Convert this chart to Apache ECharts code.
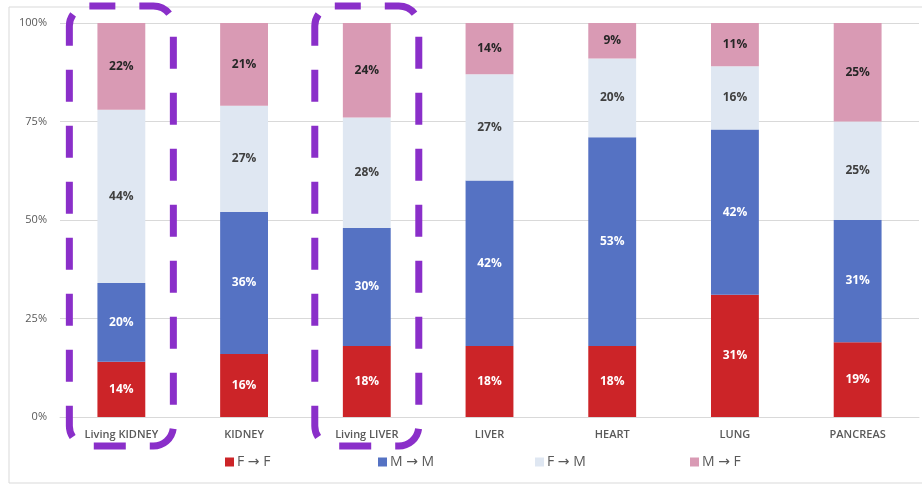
<!DOCTYPE html>
<html>
<head>
<meta charset="utf-8">
<script src="https://cdn.jsdelivr.net/npm/echarts@6/dist/echarts.min.js"></script>
<style>
  html, body { margin: 0; padding: 0; background: #fff; }
  #chart { width: 922px; height: 486px; }
</style>
</head>
<body>
<div id="chart"></div>
<script>
// Organ categories and the donor→recipient sex shares (percent)
const categories = ['Living KIDNEY', 'KIDNEY', 'Living LIVER', 'LIVER', 'HEART', 'LUNG', 'PANCREAS'];
const seriesNames = ['F \u2192 F', 'M \u2192 M', 'F \u2192 M', 'M \u2192 F'];
const fToF = [14, 16, 18, 18, 18, 31, 19];
const mToM = [20, 36, 30, 42, 53, 42, 31];
const fToM = [44, 27, 28, 27, 20, 16, 25];
const mToF = [22, 21, 24, 14, 9, 11, 25];
const yTicks = [0, 25, 50, 75, 100];
// Categories outlined with a dashed box
const highlighted = ['Living KIDNEY', 'Living LIVER'];

const colors = ['#cc2428', '#5572c3', '#dfe7f2', '#d99ab4'];
const labelColors = ['#ffffff', '#ffffff', '#404040', '#262626'];
const values = [fToF, mToM, fToM, mToF];
const legendLeft = [225, 378, 535, 690];
const FONT = '"Open Sans", "DejaVu Sans", sans-serif';

const chart = echarts.init(document.getElementById('chart'), null, { renderer: 'canvas' });

const series = seriesNames.map((name, i) => ({
  name: name,
  type: 'bar',
  stack: 'share',
  barWidth: '39%',
  itemStyle: { color: colors[i] },
  label: {
    show: true,
    position: 'inside',
    formatter: p => p.value + '%',
    color: labelColors[i],
    fontFamily: FONT,
    fontWeight: 'bold',
    fontSize: 12
  },
  emphasis: { disabled: true },
  data: values[i]
}));

// One legend block per series so the entries sit evenly spaced
const legends = seriesNames.map((name, i) => ({
  data: [name],
  left: legendLeft[i],
  top: 455,
  padding: 0,
  icon: 'rect',
  itemWidth: 9,
  itemHeight: 9,
  itemGap: 0,
  textStyle: {
    color: '#595959',
    fontFamily: FONT,
    fontSize: 14,
    padding: [0, 0, 0, -2]
  }
}));

chart.setOption({
  animation: false,
  backgroundColor: '#ffffff',
  grid: { left: 60, right: 3, top: 23, bottom: 69 },
  legend: legends,
  xAxis: {
    type: 'category',
    data: categories,
    axisLine: { show: true, lineStyle: { color: '#d9d9d9' } },
    axisTick: { show: false },
    axisLabel: {
      color: '#595959',
      fontFamily: FONT,
      fontWeight: 600,
      fontSize: 11,
      margin: 12
    }
  },
  yAxis: {
    type: 'value',
    min: yTicks[0],
    max: yTicks[yTicks.length - 1],
    interval: 25,
    axisLine: { show: false },
    axisTick: { show: false },
    splitLine: { lineStyle: { color: '#d9d9d9' } },
    axisLabel: {
      color: '#595959',
      fontFamily: FONT,
      fontSize: 11,
      margin: 13,
      formatter: v => v + '%'
    }
  },
  series: series
});

// Frame around the chart area and dashed outlines around the living-donor bars
function drawOverlays() {
  const yTop = chart.convertToPixel({ yAxisIndex: 0 }, 100);
  const yZero = chart.convertToPixel({ yAxisIndex: 0 }, 0);
  const elements = [{
    type: 'rect',
    silent: true,
    z: -1,
    shape: { x: 9, y: 7, width: 930, height: 476 },
    style: { fill: null, stroke: '#d9d9d9', lineWidth: 1 }
  }];
  highlighted.forEach(cat => {
    const cx = chart.convertToPixel({ xAxisIndex: 0 }, cat);
    const w = 104;
    const top = yTop - 17;
    const bottom = yZero + 29;
    elements.push({
      type: 'rect',
      silent: true,
      z: 100,
      shape: { x: cx - w / 2, y: top, width: w, height: bottom - top, r: 20 },
      style: {
        fill: null,
        stroke: '#8a2fc9',
        lineWidth: 7,
        lineDash: [32, 24],
        lineDashOffset: 6
      }
    });
  });
  chart.setOption({ graphic: elements });
}
drawOverlays();
</script>
</body>
</html>
